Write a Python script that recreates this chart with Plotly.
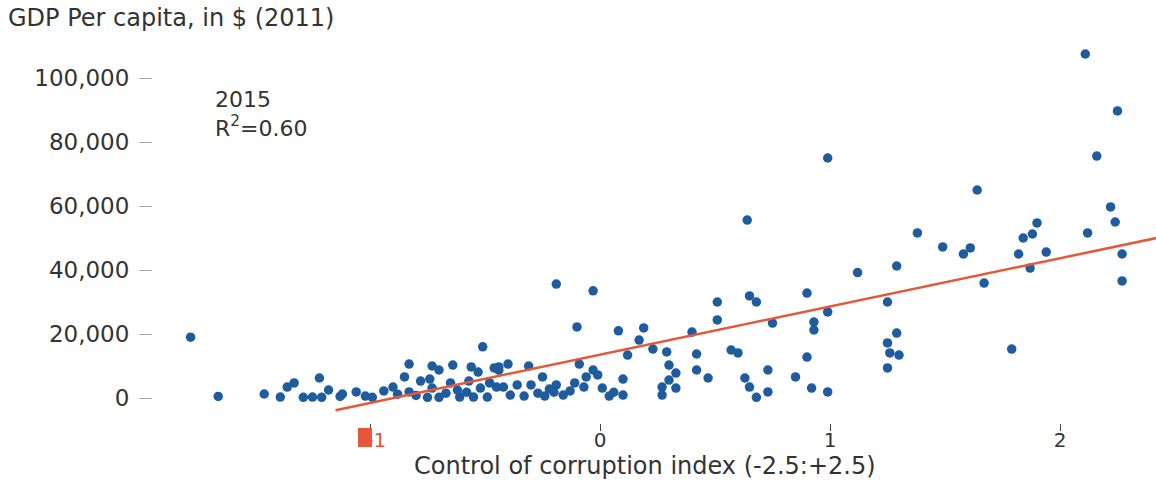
import plotly.graph_objects as go

# Control of corruption index (x) and GDP per capita in $ (y), 2015
corruption_index = [
    -1.78, -1.66, -1.46, -1.39, -1.36, -1.33, -1.29, -1.25, -1.22, -1.21,
    -1.18, -1.13, -1.12, -1.06, -1.02, -0.99, -0.94, -0.90, -0.85, -0.83,
    -0.83, -0.78, -0.74, -0.73, -0.70, -0.75, -0.73, -0.70, -0.65, -0.64,
    -0.67, -0.61, -0.57, -0.56, -0.53, -0.55, -0.51, -0.52, -0.49, -0.46,
    -0.45, -0.19, -0.03, -0.10, 0.08, 0.19, 0.17, 0.12, -0.44, -0.40,
    -0.31, -0.44, -0.09, -0.03, -0.25, -0.06, -0.01, 0.10, -0.42, -0.36,
    -0.30, -0.22, -0.19, -0.11, -0.07, 0.01, -0.39, -0.33, -0.16, 0.04,
    0.10, -0.48, 0.23, 0.51, 0.51, 0.65, 0.68, 0.40, 0.75, 0.29,
    0.42, 0.57, 0.60, 0.30, 0.33, 0.42, 0.47, 0.30, 0.27, 0.33,
    0.27, 0.63, 0.73, 0.65, 0.73, 0.68, 0.85, 0.64, 1.12, 0.90,
    1.25, 0.99, 0.93, 0.93, 1.29, 1.25, 1.26, 1.30, 1.25, 0.90,
    0.92, 0.99, 0.99, 2.11, 2.25, 2.16, 1.64, 1.38, 1.49, 1.58,
    1.61, 1.29, 1.67, 1.79, 1.90, 1.88, 1.84, 1.82, 1.94, 1.87,
    2.12, 2.22, 2.24, 2.27, 2.27, -0.27, -0.24, -0.20, -0.13, 0.06,
    -0.58, -0.62, -0.80, -0.88,
]
gdp_per_capita = [
    19000, 500, 1250, 300, 3400, 4700, 200, 300, 6250, 200,
    2500, 500, 1250, 1900, 600, 200, 2200, 3400, 6600, 10600,
    1900, 5300, 5900, 10000, 8750, 200, 3100, 200, 4700, 10300,
    1500, 300, 5300, 9700, 8100, 300, 16000, 3100, 300, 9400,
    3400, 35600, 33500, 22200, 21000, 21900, 18100, 13400, 9700, 10600,
    10000, 8700, 10600, 8750, 6600, 6600, 7200, 5900, 3400, 4100,
    4100, 2800, 4100, 4700, 3400, 3100, 900, 600, 900, 600,
    900, 4700, 15300, 30000, 24400, 31900, 30000, 20600, 23400, 14400,
    13750, 15000, 14100, 10300, 7800, 8750, 6250, 5600, 3400, 3100,
    900, 6250, 8750, 3400, 1900, 200, 6600, 55600, 39200, 32800,
    30000, 26900, 23750, 21250, 20300, 17200, 14100, 13400, 9400, 12800,
    3100, 1900, 75000, 107500, 89700, 75600, 65000, 51600, 47200, 45000,
    46900, 41250, 35900, 15300, 54700, 51250, 50000, 45000, 45600, 40600,
    51600, 59700, 55000, 45000, 36600, 1500, 600, 1800, 2200, 1800,
    1800, 2500, 800, 1200,
]

# Fitted regression line endpoints
fit_x = [-1.15, 2.42]
fit_y = [-3800, 50000]

x_tickvals = [-1, 0, 1, 2]
x_ticktext = ["<span style='color:#e8553a'>\u00a0\u00a0-1</span>", "0", "1", "2"]
y_tickvals = [0, 20000, 40000, 60000, 80000, 100000]
y_ticktext = ["0", "20,000", "40,000", "60,000", "80,000", "100,000"]

TEXT = "#333333"
FONT = "DejaVu Sans"

fig = go.Figure()
fig.add_trace(go.Scatter(
    x=corruption_index, y=gdp_per_capita, mode="markers",
    marker=dict(color="#1f5c9e", size=9.5, line=dict(width=0)),
    showlegend=False, hoverinfo="x+y",
))
fig.add_trace(go.Scatter(
    x=fit_x, y=fit_y, mode="lines",
    line=dict(color="#e4583a", width=2.5),
    showlegend=False, hoverinfo="skip",
))

fig.update_layout(
    width=1156, height=483,
    margin=dict(l=153, r=0, t=45, b=60),
    paper_bgcolor="white", plot_bgcolor="white",
    font=dict(family=FONT, color=TEXT, size=22),
    title=dict(text="GDP Per capita, in $ (2011)", xref="container", yref="container",
               x=8 / 1156, y=1 - 18 / 483, xanchor="left", yanchor="middle",
               pad=dict(t=0, l=0, b=0, r=0),
               font=dict(family=FONT, size=24, color=TEXT)),
    xaxis=dict(range=[-1.9435, 2.4174], tickvals=x_tickvals, ticktext=x_ticktext,
               showgrid=False, zeroline=False, showline=False,
               ticks="outside", ticklen=7, tickwidth=1, tickcolor="#444444",
               ticklabelstandoff=-8,
               tickfont=dict(family=FONT, size=20, color=TEXT)),
    yaxis=dict(range=[-7812, 110312], tickvals=y_tickvals, ticktext=y_ticktext,
               showgrid=False, zeroline=False, showline=False,
               ticks="outside", ticklen=13, tickwidth=1, tickcolor="#aaaaaa",
               ticklabelstandoff=5,
               tickfont=dict(family=FONT, size=23, color=TEXT)),
    annotations=[
        dict(text="2015<br>R<sup>2</sup>=0.60", xref="paper", yref="paper",
             x=0.0598, y=0.894, xanchor="left", yanchor="top", align="left",
             showarrow=False, font=dict(family=FONT, size=22, color=TEXT)),
        dict(text="Control of corruption index (-2.5:+2.5)", xref="paper", yref="paper",
             x=0.4905, y=-0.1138, xanchor="center", yanchor="middle",
             showarrow=False, font=dict(family=FONT, size=24, color=TEXT)),
    ],
    shapes=[
        dict(type="rect", xref="paper", yref="paper", x0=0.2044, x1=0.2183,
             y0=-0.0635, y1=-0.0132, fillcolor="#e8553a", line=dict(width=0)),
    ],
)

fig.write_html(
    "out.html",
    config={"displayModeBar": False},
    post_script="document.body.style.margin='0';document.body.style.overflow='hidden';",
)
